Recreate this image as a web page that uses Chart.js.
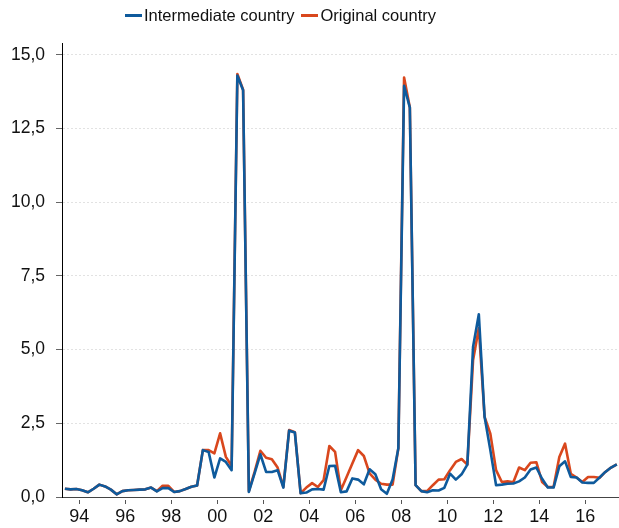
<!DOCTYPE html>
<html>
<head>
<meta charset="utf-8">
<script src="https://cdn.jsdelivr.net/npm/chart.js@4"></script>
<style>
  html, body { margin: 0; padding: 0; background: #fff; }
  #wrap { position: relative; width: 619px; height: 528px; }
  #legend {
    position: absolute; top: 6px; left: 125px;
    display: flex; align-items: center; white-space: nowrap;
    font-family: "Liberation Sans", Arial, sans-serif; font-size: 16.5px; color: #111;
  }
  .key { display: inline-block; width: 17px; height: 3px; margin-right: 2px; }
  .gap { display: inline-block; width: 7px; }
</style>
</head>
<body>
<div id="wrap">
  <canvas id="lineChart" width="619" height="528"></canvas>
  <div id="legend"></div>
</div>
<script>
// Quarterly series, 1993Q2 .. 2017Q2
const firstYear = 1993, firstQuarter = 2, nPoints = 97;
const quarters = [];
for (let i = 0; i < nPoints; i++) {
    const q = firstQuarter - 1 + i;
    quarters.push((firstYear + Math.floor(q / 4)) + "Q" + (q % 4 + 1));
}

const intermediate = [
    0.28, 0.26, 0.27, 0.23, 0.16, 0.28, 0.42, 0.36, 0.25, 0.09,
    0.20, 0.23, 0.24, 0.25, 0.26, 0.32, 0.19, 0.30, 0.30, 0.17,
    0.20, 0.27, 0.35, 0.39, 1.59, 1.53, 0.66, 1.31, 1.19, 0.91,
    14.30, 13.80, 0.17, 0.80, 1.45, 0.85, 0.85, 0.91, 0.32, 2.25,
    2.19, 0.13, 0.15, 0.26, 0.27, 0.25, 1.05, 1.06, 0.16, 0.19,
    0.63, 0.59, 0.43, 0.94, 0.77, 0.26, 0.11, 0.59, 1.65, 13.95,
    13.21, 0.40, 0.20, 0.16, 0.23, 0.22, 0.31, 0.79, 0.59, 0.77,
    1.10, 5.10, 6.20, 2.72, 1.59, 0.40, 0.42, 0.45, 0.46, 0.53,
    0.66, 0.93, 1.00, 0.62, 0.32, 0.32, 1.04, 1.21, 0.68, 0.66,
    0.49, 0.48, 0.48, 0.66, 0.85, 1.00, 1.11
];
const original = [
    0.28, 0.26, 0.27, 0.23, 0.16, 0.28, 0.42, 0.36, 0.25, 0.09,
    0.20, 0.23, 0.24, 0.25, 0.26, 0.32, 0.20, 0.38, 0.38, 0.17,
    0.20, 0.27, 0.35, 0.39, 1.59, 1.59, 1.48, 2.16, 1.36, 1.05,
    14.35, 13.82, 0.20, 0.85, 1.57, 1.33, 1.28, 1.00, 0.34, 2.27,
    2.20, 0.13, 0.32, 0.47, 0.34, 0.57, 1.73, 1.53, 0.23, 0.68,
    1.14, 1.59, 1.39, 0.80, 0.59, 0.45, 0.42, 0.42, 1.65, 14.23,
    13.21, 0.40, 0.20, 0.20, 0.40, 0.59, 0.60, 0.91, 1.19, 1.29,
    1.10, 4.65, 5.73, 2.72, 2.15, 0.91, 0.51, 0.53, 0.50, 1.00,
    0.91, 1.16, 1.18, 0.51, 0.34, 0.34, 1.36, 1.81, 0.79, 0.66,
    0.51, 0.68, 0.68, 0.65, 0.85, 1.00, 1.11
];

const yearTicks = [1994, 1996, 1998, 2000, 2002, 2004, 2006, 2008, 2010, 2012, 2014, 2016];
const valueTicks = [0, 2.5, 5, 7.5, 10, 12.5, 15];

const BLUE = "#0e5a9c";
const ORANGE = "#d9471d";
const FONT = "'Liberation Sans', Arial, sans-serif";

// mid-quarter position on a year scale
const quarterPos = quarters.map(s => +s.slice(0, 4) + (+s.slice(5) - 0.5) / 4);
const toPoints = vals => quarterPos.map((x, i) => ({ x: x, y: vals[i] }));

const series = [
    { label: "Intermediate country", color: BLUE, values: intermediate },
    { label: "Original country", color: ORANGE, values: original }
];

// legend
document.getElementById("legend").innerHTML = series.map((s, i) =>
    (i ? '<span class="gap"></span>' : '') +
    '<span class="key" style="background:' + s.color + '"></span><span>' + s.label + '</span>'
).join("");

new Chart(document.getElementById("lineChart"), {
    type: "line",
    data: {
        datasets: series.map(s => ({
            label: s.label,
            data: toPoints(s.values),
            borderColor: s.color,
            backgroundColor: s.color,
            borderWidth: 2.6,
            borderJoinStyle: "round",
            pointRadius: 0,
            tension: 0,
            fill: false
        }))
    },
    options: {
        responsive: false,
        animation: false,
        layout: { padding: { top: 43, left: 0, right: 0, bottom: 0 } },
        plugins: { legend: { display: false }, tooltip: { enabled: false } },
        scales: {
            x: {
                type: "linear",
                min: 1993.25,
                max: 2017.47,
                afterBuildTicks: s => { s.ticks = yearTicks.map(v => ({ value: v })); },
                afterFit: s => { s.height = 31; },
                border: { color: "#444", width: 1 },
                grid: { drawOnChartArea: false, tickLength: 7, tickColor: "#555", tickBorderDash: [0, 2, 5, 0] },
                ticks: {
                    color: "#111", padding: 2, maxRotation: 0, autoSkip: false,
                    font: { family: FONT, size: 18 },
                    callback: v => String(v % 100).padStart(2, "0")
                }
            },
            y: {
                min: 0,
                max: 15.4,
                afterBuildTicks: s => { s.ticks = valueTicks.map(v => ({ value: v })); },
                afterFit: s => { s.width = 62; },
                border: { color: "#000", width: 1, dash: [2, 2] },
                grid: { color: "#e2e2e2", tickLength: 15, tickColor: "#666", tickBorderDash: [0, 9, 6, 0] },
                ticks: {
                    color: "#111", padding: 2,
                    font: { family: FONT, size: 17.5 },
                    callback: v => v.toFixed(1).replace(".", ",")
                }
            }
        }
    }
});
</script>
</body>
</html>
